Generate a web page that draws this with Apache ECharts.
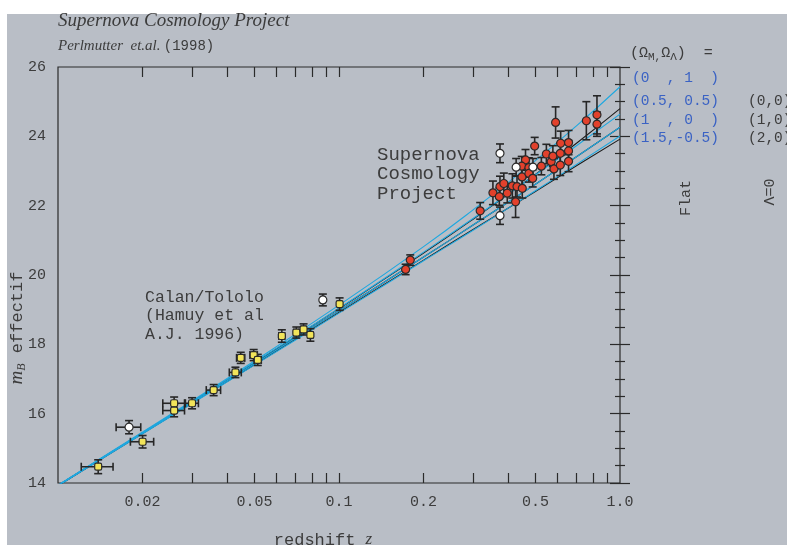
<!DOCTYPE html>
<html>
<head>
<meta charset="utf-8">
<script src="https://cdn.jsdelivr.net/npm/echarts@6/dist/echarts.min.js"></script>
<style>
  html, body { margin: 0; padding: 0; background: #fff; }
  #chart { width: 787px; height: 545px; }
</style>
</head>
<body>
<div id="chart"></div>
<script>
// Calan/Tololo supernovae (filled), redshift, magnitude and errors
var calanZ = [0.0139, 0.0200, 0.0259, 0.0259, 0.0300, 0.0358, 0.0428, 0.0447, 0.0497, 0.0514, 0.0626, 0.0705, 0.0748, 0.0791, 0.1005];
var calanM = [14.47, 15.19, 16.30, 16.09, 16.30, 16.68, 17.19, 17.61, 17.69, 17.55, 18.24, 18.34, 18.43, 18.27, 19.16];
var calanDz = [0.0018, 0.0019, 0.0023, 0.0023, 0.0016, 0.0021, 0.0021, 0.0015, 0.0015, 0.0015, 0.0015, 0.0015, 0.0015, 0.0015, 0.0015];
var calanDm = [0.20, 0.18, 0.18, 0.18, 0.16, 0.16, 0.15, 0.16, 0.16, 0.16, 0.18, 0.16, 0.16, 0.18, 0.18];
// Calan/Tololo open points
var calanOpenZ = [0.0179, 0.0876];
var calanOpenM = [15.61, 19.28];
var calanOpenDz = [0.0018, 0.0015];
var calanOpenDm = [0.19, 0.17];

// Supernova Cosmology Project (filled)
var scpZ = [0.1726, 0.1793, 0.318, 0.353, 0.374, 0.386, 0.372, 0.397, 0.414, 0.430, 0.425, 0.449, 0.461, 0.447, 0.448,
  0.474, 0.474, 0.489, 0.497, 0.525, 0.547, 0.569, 0.577, 0.590, 0.582, 0.613, 0.613, 0.615, 0.656, 0.656, 0.656,
  0.759, 0.828, 0.828];
var scpM = [20.16, 20.43, 21.85, 22.37, 22.55, 22.64, 22.26, 22.36, 22.57, 22.55, 22.11, 22.50, 23.32, 23.14, 22.83,
  23.10, 22.93, 22.79, 23.72, 23.14, 23.49, 23.27, 23.43, 24.40, 23.06, 23.17, 23.51, 23.80, 23.82, 23.58, 23.28,
  24.45, 24.62, 24.35];
var scpDm = [0.15, 0.15, 0.24, 0.34, 0.30, 0.30, 0.25, 0.28, 0.35, 0.30, 0.45, 0.28, 0.30, 0.28, 0.30,
  0.28, 0.25, 0.25, 0.25, 0.25, 0.28, 0.25, 0.30, 0.45, 0.30, 0.30, 0.30, 0.35, 0.35, 0.30, 0.30,
  0.55, 0.55, 0.35];
// Supernova Cosmology Project open points
var scpOpenZ = [0.374, 0.374, 0.427, 0.490];
var scpOpenM = [23.51, 21.71, 23.11, 23.11];
var scpOpenDm = [0.27, 0.25, 0.25, 0.25];

// model curves m_B(z)
var modelZ = [0.01, 0.02, 0.05, 0.1, 0.2, 0.3, 0.5, 0.7, 1.0];
var flat0 = [13.94, 15.47, 17.52, 19.13, 20.82, 21.88, 23.30, 24.30, 25.43];      // (0, 1)
var flat05 = [13.93, 15.45, 17.48, 19.04, 20.66, 21.63, 22.89, 23.73, 24.64];     // (0.5, 0.5)
var flat1 = [13.93, 15.44, 17.44, 18.97, 20.52, 21.44, 22.62, 23.41, 24.26];      // (1, 0)
var flat15 = [13.92, 15.42, 17.40, 18.90, 20.41, 21.29, 22.43, 23.19, 24.01];     // (1.5, -0.5)
var open0 = [13.93, 15.45, 17.47, 19.03, 20.63, 21.61, 22.90, 23.80, 24.80];      // (0, 0)
var open1 = [13.93, 15.44, 17.44, 18.97, 20.52, 21.44, 22.62, 23.41, 24.26];      // (1, 0)
var closed2 = [13.92, 15.43, 17.41, 18.92, 20.43, 21.31, 22.41, 23.15, 23.92];    // (2, 0)

var xTickZ = [0.02, 0.03, 0.04, 0.05, 0.06, 0.07, 0.08, 0.09, 0.1, 0.2, 0.3, 0.4, 0.5, 0.6, 0.7, 0.8, 0.9];
var xLabelZ = [0.02, 0.05, 0.1, 0.2, 0.5, 1.0];

var MONO = '"Liberation Mono", "DejaVu Sans Mono", monospace';
var TXT = '#3c3c3c';
var CYAN = '#1ea8e0';
var BLUE = '#3a62c4';

function lg(v) { return Math.log10(v); }

function curve(m) {
  return modelZ.map(function (z, i) { return [lg(z), m[i]]; });
}

function errRows(zs, ms, dzs, dms) {
  return zs.map(function (z, i) {
    var dz = dzs ? dzs[i] : 0;
    return [lg(z), ms[i], lg(z - dz), lg(z + dz), ms[i] - dms[i], ms[i] + dms[i], dz > 0 ? 1 : 0];
  });
}

function renderErr(params, api) {
  var c = api.coord([api.value(0), api.value(1)]),
    top = api.coord([api.value(0), api.value(5)]),
    bot = api.coord([api.value(0), api.value(4)]),
    st = { stroke: '#262626', lineWidth: 1.6 },
    cap = 4,
    kids = [
      { type: 'line', shape: { x1: c[0], y1: top[1], x2: c[0], y2: bot[1] }, style: st },
      { type: 'line', shape: { x1: c[0] - cap, y1: top[1], x2: c[0] + cap, y2: top[1] }, style: st },
      { type: 'line', shape: { x1: c[0] - cap, y1: bot[1], x2: c[0] + cap, y2: bot[1] }, style: st }
    ];
  if (api.value(6)) {
    var l = api.coord([api.value(2), api.value(1)]),
      r = api.coord([api.value(3), api.value(1)]);
    kids.push({ type: 'line', shape: { x1: l[0], y1: c[1], x2: r[0], y2: c[1] }, style: st });
    kids.push({ type: 'line', shape: { x1: l[0], y1: c[1] - cap, x2: l[0], y2: c[1] + cap }, style: st });
    kids.push({ type: 'line', shape: { x1: r[0], y1: c[1] - cap, x2: r[0], y2: c[1] + cap }, style: st });
  }
  return { type: 'group', children: kids };
}

function pts(zs, ms) {
  return zs.map(function (z, i) { return [lg(z), ms[i]]; });
}

function lineSeries(data, color) {
  return {
    type: 'line', data: curve(data), smooth: true, symbol: 'none', z: 2,
    lineStyle: { color: color, width: 1.1 }
  };
}

var tickStyle = { color: '#2a2a2a', width: 1.2 };

var myChart = echarts.init(document.getElementById('chart'));
var option = {
  backgroundColor: '#b9bec6',
  animation: false,
  grid: {
    left: 58, right: 167, top: 67, bottom: 62,
    show: true, borderColor: '#2a2a2a', borderWidth: 1.2, backgroundColor: 'transparent'
  },
  xAxis: [{
    type: 'value', min: -2, max: 0, position: 'bottom',
    axisLine: { show: false },
    axisTick: { inside: true, length: 10, customValues: xTickZ.map(lg), lineStyle: tickStyle },
    axisLabel: {
      customValues: xLabelZ.map(lg), margin: 12,
      fontFamily: MONO, fontSize: 15, color: TXT,
      formatter: function (v) {
        var z = Math.pow(10, v);
        return z > 0.999 ? '1.0' : String(+z.toPrecision(2));
      }
    },
    splitLine: { show: false }
  }, {
    type: 'value', min: -2, max: 0, position: 'top',
    axisLine: { show: false },
    axisTick: { inside: true, length: 10, customValues: xTickZ.map(lg), lineStyle: tickStyle },
    axisLabel: { show: false },
    splitLine: { show: false }
  }],
  yAxis: [{
    type: 'value', min: 14, max: 26, interval: 2, position: 'left',
    axisLine: { show: false },
    axisTick: { inside: true, length: 10, lineStyle: tickStyle },
    minorTick: { show: true, splitNumber: 4, length: 5, lineStyle: tickStyle },
    axisLabel: { margin: 12, fontFamily: MONO, fontSize: 15, color: TXT },
    splitLine: { show: false }
  }, {
    type: 'value', min: 14, max: 26, interval: 2, position: 'right',
    axisLine: { show: false },
    axisTick: { inside: true, length: 10, lineStyle: tickStyle },
    minorTick: { show: true, splitNumber: 4, length: 5, lineStyle: tickStyle },
    axisLabel: { show: false },
    splitLine: { show: false }
  }],
  series: [
    lineSeries(closed2, '#1c1c1c'),
    lineSeries(open1, '#1c1c1c'),
    lineSeries(open0, '#1c1c1c'),
    lineSeries(flat15, CYAN),
    lineSeries(flat1, CYAN),
    lineSeries(flat05, CYAN),
    lineSeries(flat0, CYAN),
    {
      type: 'custom', renderItem: renderErr, z: 3,
      data: errRows(calanZ, calanM, calanDz, calanDm)
        .concat(errRows(calanOpenZ, calanOpenM, calanOpenDz, calanOpenDm))
        .concat(errRows(scpZ, scpM, null, scpDm))
        .concat(errRows(scpOpenZ, scpOpenM, null, scpOpenDm))
    },
    {
      type: 'scatter', data: pts(calanZ, calanM), z: 4,
      symbol: 'roundRect', symbolSize: 7,
      itemStyle: { color: '#f2e45a', borderColor: '#2a2a2a', borderWidth: 1.2, opacity: 1 }
    },
    {
      type: 'scatter', data: pts(scpZ, scpM), z: 4,
      symbol: 'circle', symbolSize: 8,
      itemStyle: { color: '#e2412c', borderColor: '#2a2a2a', borderWidth: 1.2, opacity: 1 }
    },
    {
      type: 'scatter', data: pts(calanOpenZ, calanOpenM).concat(pts(scpOpenZ, scpOpenM)), z: 4,
      symbol: 'circle', symbolSize: 8,
      itemStyle: { color: '#ffffff', borderColor: '#2a2a2a', borderWidth: 1.2, opacity: 1 }
    }
  ],
  graphic: [
    { type: 'rect', shape: { x: 0, y: 0, width: 787, height: 14 }, style: { fill: '#fff' }, silent: true },
    { type: 'rect', shape: { x: 0, y: 0, width: 7, height: 545 }, style: { fill: '#fff' }, silent: true },
    {
      type: 'text', x: 58, y: 21,
      style: { text: 'Supernova Cosmology Project', font: 'italic 19px "Liberation Serif"', fill: TXT, textVerticalAlign: 'middle' }
    },
    {
      type: 'text', x: 58, y: 46,
      style: {
        text: '{a|Perlmutter  et.al.} {b|(1998)}', textVerticalAlign: 'middle',
        rich: {
          a: { font: 'italic 15px "Liberation Serif"', fill: TXT },
          b: { font: '14px ' + MONO, fill: TXT }
        }
      }
    },
    {
      type: 'text', x: 377, y: 174,
      style: {
        text: 'Supernova\nCosmology\nProject', font: '19px ' + MONO, fill: TXT,
        lineHeight: 19.5, textVerticalAlign: 'middle'
      }
    },
    {
      type: 'text', x: 145, y: 316,
      style: {
        text: 'Calan/Tololo\n(Hamuy et al\nA.J. 1996)', font: '16.5px ' + MONO, fill: TXT,
        lineHeight: 18.5, textVerticalAlign: 'middle'
      }
    },
    {
      type: 'text', x: 630, y: 53,
      style: {
        text: '{n|(\u03a9}{s|M,}{n|\u03a9}{s|\u039b}{n|)  =}', textVerticalAlign: 'middle',
        rich: {
          n: { font: '15px ' + MONO, fill: TXT, verticalAlign: 'middle', lineHeight: 20 },
          s: { font: '11px ' + MONO, fill: TXT, verticalAlign: 'bottom', lineHeight: 20 }
        }
      }
    },
    {
      type: 'text', x: 632, y: 78,
      style: { text: '(0  , 1  )', font: '14.5px ' + MONO, fill: BLUE, textVerticalAlign: 'middle' }
    },
    {
      type: 'text', x: 632, y: 101,
      style: {
        text: '(0.5, 0.5)\n(1  , 0  )\n(1.5,-0.5)', font: '14.5px ' + MONO, fill: BLUE,
        lineHeight: 18.5, textVerticalAlign: 'top'
      }, y: 92
    },
    {
      type: 'text', x: 748, y: 92,
      style: {
        text: '(0,0)\n(1,0)\n(2,0)', font: '14.5px ' + MONO, fill: TXT,
        lineHeight: 18.5, textVerticalAlign: 'top'
      }
    },
    {
      type: 'text', x: 686, y: 198, rotation: Math.PI / 2,
      style: { text: 'Flat', font: '15px ' + MONO, fill: TXT, textAlign: 'center', textVerticalAlign: 'middle' }
    },
    {
      type: 'text', x: 770, y: 192, rotation: Math.PI / 2,
      style: { text: '\u039b=0', font: '15px ' + MONO, fill: TXT, textAlign: 'center', textVerticalAlign: 'middle' }
    },
    {
      type: 'text', x: 17, y: 328, rotation: Math.PI / 2,
      style: {
        text: '{i|m}{s|B}{n| effectif}', textAlign: 'center', textVerticalAlign: 'middle',
        rich: {
          i: { font: 'italic 19px "Liberation Serif"', fill: TXT, verticalAlign: 'middle', lineHeight: 22 },
          s: { font: 'italic 12px "Liberation Serif"', fill: TXT, verticalAlign: 'bottom', lineHeight: 22 },
          n: { font: '17px ' + MONO, fill: TXT, verticalAlign: 'middle', lineHeight: 22 }
        }
      }
    },
    {
      type: 'text', x: 323, y: 540,
      style: {
        text: '{n|redshift }{i|z}', textAlign: 'center', textVerticalAlign: 'middle',
        rich: {
          n: { font: '17px ' + MONO, fill: TXT },
          i: { font: 'italic 17px "Liberation Serif"', fill: TXT }
        }
      }
    }
  ]
};
myChart.setOption(option, true);
</script>
</body>
</html>
